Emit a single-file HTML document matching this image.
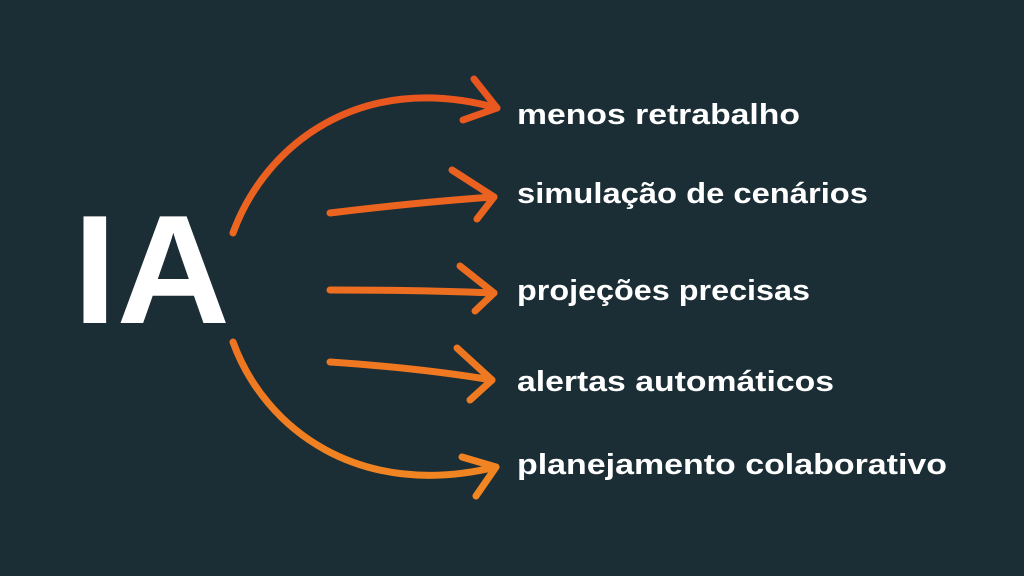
<!DOCTYPE html>
<html><head><meta charset="utf-8"><style>
html,body{margin:0;padding:0;background:#1b2d35;}
svg{display:block}
text{font-family:"Liberation Sans",sans-serif;fill:#fff;}
</style></head><body>
<svg width="1024" height="576" viewBox="0 0 1024 576">
<defs>
<linearGradient id="g" x1="0" y1="0" x2="0" y2="576" gradientUnits="userSpaceOnUse">
<stop offset="0.1" stop-color="#e8521f"/><stop offset="0.9" stop-color="#f28a22"/>
</linearGradient>
</defs>
<rect width="1024" height="576" fill="#1b2d35"/>
<text x="73" y="323" font-size="155" font-weight="bold" textLength="157" lengthAdjust="spacingAndGlyphs">IA</text>
<g fill="none" stroke="url(#g)" stroke-width="7" stroke-linecap="round" stroke-linejoin="round">
<path d="M233 233 C265 145 360 70 497 108"/>
<path d="M474 79 L497 108 L463 120"/>
<path d="M330 213 Q420 202 494 197"/>
<path d="M452 170 L494 197 L477 219"/>
<path d="M330 290 Q420 290 494 293"/>
<path d="M460 266 L494 293 L475 311"/>
<path d="M330 362 Q420 368 492 380"/>
<path d="M457 348 L492 380 L470 400"/>
<path d="M233 342 C265 430 360 500 496 467"/>
<path d="M462 457 L496 467 L476 496"/>
</g>
<g font-size="29" font-weight="bold">
<text x="517" y="124" textLength="283" lengthAdjust="spacingAndGlyphs">menos retrabalho</text>
<text x="517" y="203" textLength="351" lengthAdjust="spacingAndGlyphs">simulação de cenários</text>
<text x="517" y="300" textLength="293" lengthAdjust="spacingAndGlyphs">projeções precisas</text>
<text x="517" y="391" textLength="317" lengthAdjust="spacingAndGlyphs">alertas automáticos</text>
<text x="517" y="474" textLength="430" lengthAdjust="spacingAndGlyphs">planejamento colaborativo</text>
</g>
</svg>
</body></html>
